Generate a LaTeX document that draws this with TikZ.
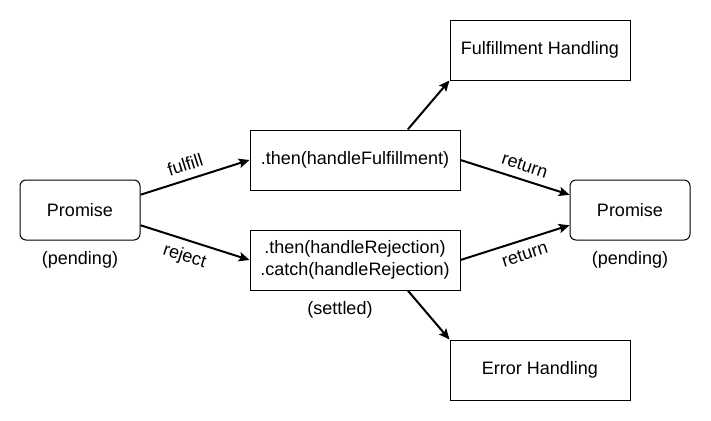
\documentclass[tikz,border=0pt]{standalone}
\usepackage{fontspec}
\setmainfont{Liberation Sans}
\usetikzlibrary{arrows.meta,calc}

\begin{document}
\begin{tikzpicture}[
	x=0.75pt, y=-0.75pt, % one unit is one pixel of the reference
	% Style for the rounded promise boxes
	state node/.style={
		draw=black,
		fill=white,
		rounded corners=4.5pt,
		line width=0.75pt,
		minimum width=90pt,
		minimum height=45pt,
		font=\fontsize{13.5}{16}\selectfont
	},
	% Style for the square handler boxes
	handler node/.style={
		draw=black,
		fill=white,
		line width=0.75pt,
		minimum height=45pt,
		align=center,
		font=\fontsize{13.5}{16}\selectfont
	},
	% Style for plain captions under the boxes
	caption/.style={
		font=\fontsize{13.5}{16}\selectfont
	},
	% Style for the thick arrows
	flow/.style={
		draw=black,
		line width=1.5pt,
		-{Stealth[length=8pt,width=7pt,inset=1.5pt]}
	},
	% Style for the words on the arrows
	word/.style={
		font=\fontsize{13.5}{16}\selectfont,
		sloped,
		inner sep=5.5pt
	}
	]
	
	\useasboundingbox (0,0) rectangle (711,421);
	
	% 1. Boxes
	\node[state node] (P1) at (80,210) {Promise};
	\node[state node] (P2) at (630,210) {Promise};
	\node[handler node, minimum width=157.5pt] (then) at (355,160) {.then(handleFulfillment)};
	\node[handler node, minimum width=157.5pt] (catch) at (355,260) {.then(handleRejection)\\.catch(handleRejection)};
	\node[handler node, minimum width=135pt] (ful) at (540,50) {Fulfillment Handling};
	\node[handler node, minimum width=135pt] (err) at (540,370) {Error Handling};
	
	% 2. Captions
	\node[caption] (pend1) at (80,260) {(pending)};
	\node[caption] (pend2) at (630,260) {(pending)};
	\node[caption] (settled) at (340,310) {(settled)};
	
	% 3. Arrows
	\draw[flow] ($(P1.north east)!0.25!(P1.south east)$) -- node[word, above, pos=0.45] {fulfill} (then.west);
	\draw[flow] ($(P1.north east)!0.75!(P1.south east)$) -- node[word, below, pos=0.45] {reject} (catch.west);
	
	\draw[flow] ($(then.north west)!0.75!(then.north east)$) -- (ful.south west);
	\draw[flow] ($(catch.south west)!0.75!(catch.south east)$) -- (err.north west);
	
	\draw[flow] (then.east) -- node[word, above, pos=0.55] {return} ($(P2.north west)!0.25!(P2.south west)$);
	\draw[flow] (catch.east) -- node[word, below, pos=0.55] {return} ($(P2.north west)!0.75!(P2.south west)$);
	
\end{tikzpicture}
\end{document}
